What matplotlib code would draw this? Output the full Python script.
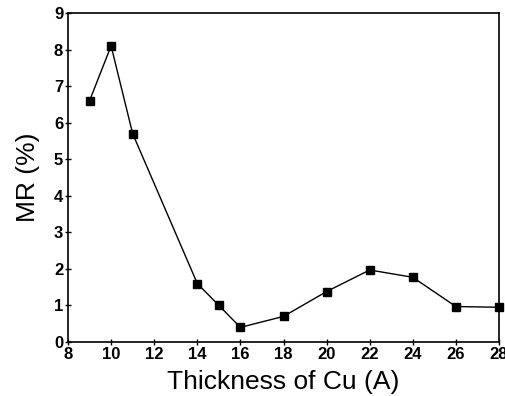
import matplotlib
matplotlib.use('Agg')
from matplotlib import pyplot as plt

thickness = [9, 10, 11, 14, 15, 16, 18, 20, 22, 24, 26, 28]
mr = [6.6, 8.1, 5.7, 1.6, 1.0, 0.4, 0.7, 1.38, 1.97, 1.77, 0.97, 0.95]
xticks = [8, 10, 12, 14, 16, 18, 20, 22, 24, 26, 28]
yticks = [0, 1, 2, 3, 4, 5, 6, 7, 8, 9]

plt.rcParams['font.family'] = ['Liberation Sans', 'DejaVu Sans']

fig = plt.figure(figsize=(5.05, 3.96), dpi=100)
ax = fig.add_axes([68 / 505, 1 - 342 / 396, 431 / 505, 329 / 396])
ax.plot(thickness, mr, '-s', color='black', lw=1.0, ms=6, clip_on=False)
ax.set_xlim(8, 28)
ax.set_ylim(0, 9)
ax.set_xticks(xticks)
ax.set_yticks(yticks)
ax.tick_params(direction='inout', length=5, width=1, labelsize=12, pad=1)
for lbl in ax.get_xticklabels() + ax.get_yticklabels():
    lbl.set_fontweight('bold')
for s in ax.spines.values():
    s.set_linewidth(1.2)
ax.set_xlabel('Thickness of Cu (A)', fontsize=19, labelpad=6)
ax.set_ylabel('MR (%)', fontsize=19, labelpad=10)
fig.savefig('out.png', dpi=100)
